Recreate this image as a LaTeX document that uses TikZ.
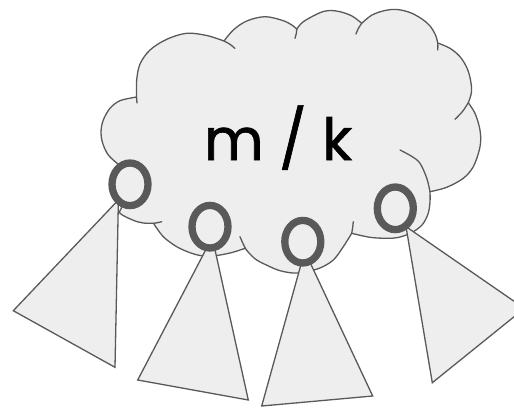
\documentclass[tikz,border=0pt]{standalone}
\usepackage{fontspec}
\setmainfont{Poppins}
\newfontfamily\labelfont[FakeBold=1.2]{Poppins}
\definecolor{cloudfill}{HTML}{EEEEEE}
\definecolor{edge}{HTML}{595959}
\tikzset{
  lobe/.style={draw=edge, line width=1.3pt, line cap=round, line join=round},
  cloudbody/.style={fill=cloudfill, draw=edge, line width=1.3pt, line join=miter},
  subtree/.style={fill=cloudfill, draw=edge, line width=1.3pt, line join=miter},
  port/.style={draw=edge, line width=7.3pt},
  sm/.style={smooth, tension=0.55}
}
\begin{document}
\begin{tikzpicture}[x=1pt,y=-1pt]
\useasboundingbox (0,0) rectangle (514,407);
\clip (0,0) rectangle (514,407);

% cloud body
\filldraw[cloudbody]
  plot[sm] coordinates {(136.5,97) (136.7,80) (140,64) (150,50) (166.7,39.3) (186.7,33.3) (206.7,35.5) (224,41)}
  -- plot[sm] coordinates {(224,41) (233.3,30) (246.7,21) (265,16.7) (283.3,20.7) (293.3,26) (296.7,29.3)}
  -- plot[sm] coordinates {(296.7,29.3) (303.3,21.7) (320,12.7) (330,10.5) (340,11.7) (352,16) (361.7,23.3)}
  -- plot[sm] coordinates {(361.7,23.3) (372,15) (385,10.5) (397,9.5) (410,12.5) (422,19) (430,26) (435.5,35) (437.7,43)}
  -- plot[sm] coordinates {(437.7,43) (450,48.3) (460,56.7) (467,68) (470.5,80) (471.5,92) (468.3,102.7)}
  -- plot[sm] coordinates {(468.3,102.7) (475,113.3) (479.3,126.7) (480.7,138.3) (479.3,150) (473.3,166.7) (463.3,178.3) (446.7,187.3) (430,191.7)}
  -- plot[sm] coordinates {(430,191.7) (430,202) (428,214) (422,225) (411,233) (398,237.5) (386.7,238.3) (370,237.3) (351.7,233.3)}
  -- plot[sm] coordinates {(351.7,233.3) (343.3,246.7) (333.3,260) (320,268) (305,272) (293,273) (280,270.7) (270,266.7) (256.7,260) (249,253) (245.3,248.3)}
  -- plot[sm] coordinates {(245.3,248.3) (232,252.5) (220,255) (210,256.3) (200,255.5) (190,252.7) (176.7,246.7) (163.3,236.7) (153.5,223.3)}
  -- plot[sm] coordinates {(153.5,223.3) (143.3,223) (133.3,220.3) (120,213.3) (121.5,207) (117,200) (114,192) (113.5,182) (115,172) (118,164)}
  -- plot[sm] coordinates {(118,164) (108.3,155) (102.7,143.3) (101,131.7) (103.3,120) (110,108.3) (120,100.7) (136.5,97)}
  -- cycle;

% inner tails of the lobes
\draw[lobe] (136.5,97) -- (137,103);
\draw[lobe] plot[sm] coordinates {(224,41) (230,44.3) (235,48.5)};
\draw[lobe] plot[sm] coordinates {(296.7,29.3) (296.3,33.5) (295,38.3)};
\draw[lobe] plot[sm] coordinates {(356,34) (358.3,28.5) (361.7,23.3)};
\draw[lobe] plot[sm] coordinates {(437.7,43) (437.9,46.5) (437.7,50)};
\draw[lobe] plot[sm] coordinates {(468.3,102.7) (462.5,111.5) (455,119.3)};
\draw[lobe] plot[sm] coordinates {(400,150) (412,156.5) (420,163.3) (426.7,178) (430,191.7)};
\draw[lobe] plot[sm] coordinates {(353.3,221.7) (352.6,228) (351.7,233.3)};
\draw[lobe] plot[sm] coordinates {(245.3,248.3) (242.5,242.5) (240,236.7)};
\draw[lobe] plot[sm] coordinates {(161.7,221.7) (157.5,222.7) (153.5,223.3)};

% label
\node[anchor=base, inner sep=0pt, font=\labelfont\fontsize{58}{60}\selectfont] (lbl) at (278,160) {m / k};

% subtrees
\filldraw[subtree] (116.7,201.7) -- (13.3,310.7) -- (115,367.3) -- (118.3,205) -- cycle;
\filldraw[subtree] (206.7,248) -- (137.7,380) -- (248.3,400) -- (214.6,248) -- cycle;
\filldraw[subtree] (301.4,263) -- (261.7,406) -- (372.7,396) -- (310.3,263) -- cycle;
\filldraw[subtree] (405.9,226) -- (432.3,382.7) -- (524.4,308.4) -- (408,228) -- cycle;

% pointer rings
\draw[port] (130,184.3) ellipse [x radius=18pt, y radius=21.3pt];
\draw[port] (210,226.7) ellipse [x radius=18pt, y radius=21.3pt];
\draw[port] (302.8,241.7) ellipse [x radius=18pt, y radius=21.3pt];
\draw[port] (395.3,208.3) ellipse [x radius=18pt, y radius=21.3pt];
\end{tikzpicture}
\end{document}
